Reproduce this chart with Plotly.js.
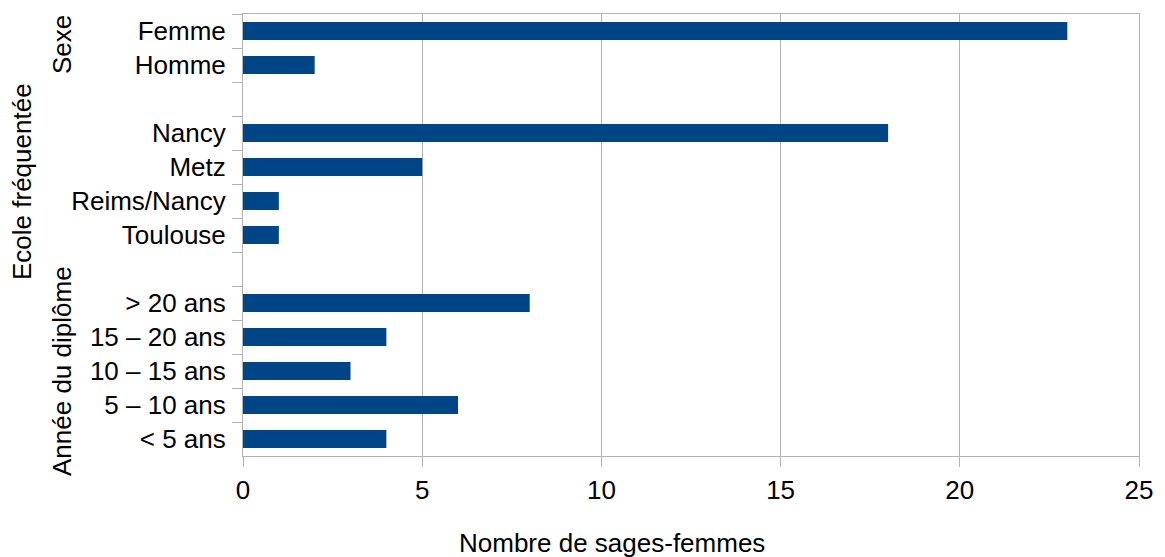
<!DOCTYPE html>
<html>
<head>
<meta charset="utf-8">
<script src="https://cdn.plot.ly/plotly-3.0.1.min.js"></script>
<style>html,body{margin:0;padding:0;background:#fff;}#chart{width:1165px;height:557px;}</style>
</head>
<body>
<div id="chart"></div>
<script>
// Categories listed top to bottom (blank entries are spacer rows between groups)
const categories = ["Femme", "Homme", " ", "Nancy", "Metz", "Reims/Nancy", "Toulouse", "  ",
  "> 20 ans", "15 – 20 ans", "10 – 15 ans", "5 – 10 ans", "< 5 ans"];
const values = [23, 2, null, 18, 5, 1, 1, null, 8, 4, 3, 6, 4];
const groupLabels = ["Sexe", "Ecole fréquentée", "Année du diplôme"];
const xTickValues = [0, 5, 10, 15, 20, 25];
const xTitle = "Nombre de sages-femmes";

const W = 1165, H = 557;
const L = 243, R = 1139, T = 14, B = 456;
const pw = R - L, ph = B - T;
const px = x => (x - L) / pw;
const py = y => (B - y) / ph;
const font = {family: "Liberation Sans, Arial, sans-serif", size: 26, color: "#000"};
const grey = "#b3b3b3";

const trace = {
  type: "bar", orientation: "h",
  x: values, y: categories,
  marker: {color: "#004586"},
  hoverinfo: "x+y"
};

const groupPos = [[62, 45], [22, 182], [62, 371]];
const annotations = groupLabels.map((t, i) => ({
  text: t, xref: "paper", yref: "paper",
  x: px(groupPos[i][0]), y: py(groupPos[i][1]),
  xanchor: "center", yanchor: "middle", textangle: -90,
  showarrow: false, font: font
}));
annotations.push({
  text: xTitle, xref: "paper", yref: "paper",
  x: px(612), y: py(543), xanchor: "center", yanchor: "middle",
  showarrow: false, font: font
});

const layout = {
  width: W, height: H,
  margin: {l: L, r: W - R, t: T, b: H - B, pad: 0},
  paper_bgcolor: "#fff", plot_bgcolor: "#fff",
  font: font,
  showlegend: false,
  bargap: 0.47,
  xaxis: {
    range: [0, 25], tickvals: xTickValues, ticktext: xTickValues.map(String),
    showgrid: true, gridcolor: grey, gridwidth: 1,
    zeroline: false,
    showline: true, linecolor: grey, linewidth: 1, mirror: true,
    ticks: "outside", ticklen: 10, tickcolor: grey, tickwidth: 1,
    ticklabelstandoff: 1,
    tickfont: font, automargin: false, fixedrange: true
  },
  yaxis: {
    type: "category", categoryorder: "array", categoryarray: categories,
    autorange: "reversed",
    showgrid: false, zeroline: false,
    showline: true, linecolor: grey, linewidth: 1, mirror: true,
    ticks: "outside", ticklen: 10, tickcolor: grey, tickwidth: 1,
    tickson: "boundaries",
    ticklabelstandoff: 11,
    tickfont: font, automargin: false, fixedrange: true
  },
  annotations: annotations
};

Plotly.newPlot("chart", [trace], layout, {displayModeBar: false, staticPlot: true});
</script>
</body>
</html>
